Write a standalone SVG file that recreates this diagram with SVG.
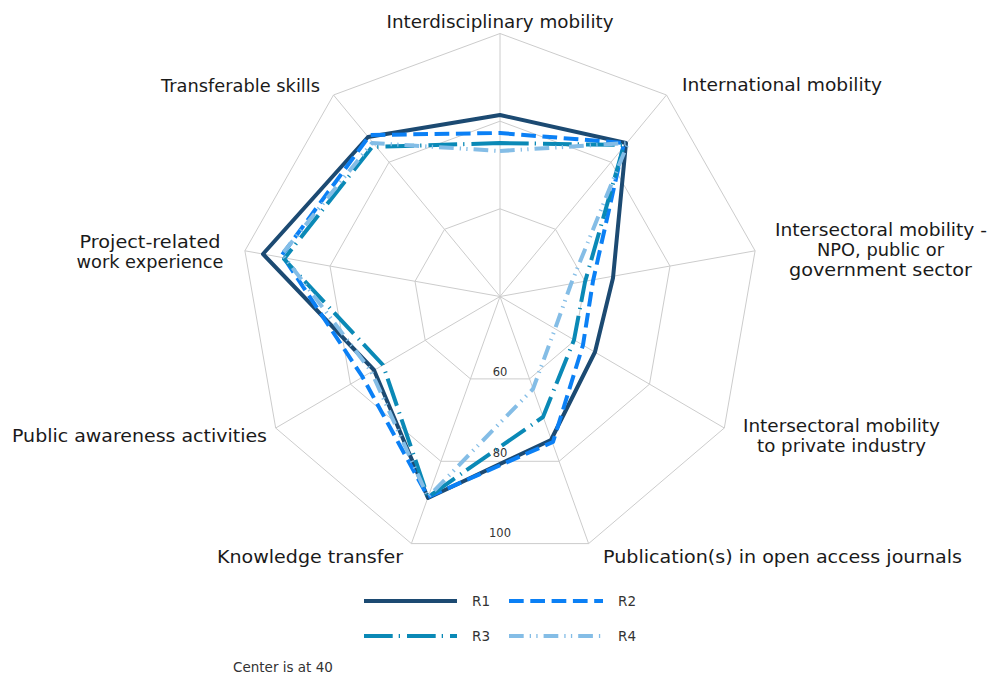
<svg xmlns="http://www.w3.org/2000/svg" width="989" height="677" viewBox="0 0 989 677">
<style>
  .grid { fill: none; stroke: #cccccc; stroke-width: 1; }
  .lbl { font-family: "DejaVu Sans", "Liberation Sans", sans-serif; font-size: 18.5px; fill: #1a1a1a; }
  .tick { font-family: "DejaVu Sans", "Liberation Sans", sans-serif; font-size: 11.5px; fill: #333333; text-anchor: middle; }
  .leg { font-family: "DejaVu Sans", "Liberation Sans", sans-serif; font-size: 13.5px; fill: #333333; }
  .s { fill: none; stroke-width: 4; stroke-linejoin: round; }
  .r1 { stroke: #1c4a72; }
  .r2 { stroke: #0b80f5; stroke-dasharray: 14.7 6.6; }
  .r3 { stroke: #0a89b6; stroke-dasharray: 28.7 6 1.3 7; }
  .r4 { stroke: #84bde6; stroke-dasharray: 14.7 6 1.3 5.3 1.3 6; }
</style>
<rect width="989" height="677" fill="#ffffff"/>
<g id="grid">
  <polygon class="grid" points="500,208.8 555.5,229.3 585,281.3 574.8,340.3 529.5,378.9 470.5,378.9 425.2,340.3 415,281.3 444.5,229.3"/>
  <polygon class="grid" points="500,121.2 611,162.2 670,266.1 649.5,384.2 559.1,461.3 440.9,461.3 350.5,384.2 330,266.1 389,162.2"/>
  <polygon class="grid" points="500,33.5 666.5,95 755.1,250.8 724.3,428 588.6,543.6 411.4,543.6 275.7,428 244.9,250.8 333.5,95"/>
  <path class="grid" d="M500,296.5L500,33.5M500,296.5L666.5,95M500,296.5L755.1,250.8M500,296.5L724.3,428M500,296.5L588.6,543.6M500,296.5L411.4,543.6M500,296.5L275.7,428M500,296.5L244.9,250.8M500,296.5L333.5,95"/>
  <text class="tick" x="500" y="376">60</text>
  <text class="tick" x="500" y="457">80</text>
  <text class="tick" x="500" y="537">100</text>
</g>
<g id="axis-labels">
  <text class="lbl" x="500" y="28" text-anchor="middle" textLength="227" lengthAdjust="spacingAndGlyphs">Interdisciplinary mobility</text>
  <text class="lbl" x="682" y="91" textLength="200" lengthAdjust="spacingAndGlyphs">International mobility</text>
  <text class="lbl" x="881" y="236" text-anchor="middle" textLength="212" lengthAdjust="spacingAndGlyphs">Intersectoral mobility -</text>
  <text class="lbl" x="880.5" y="256" text-anchor="middle" textLength="127" lengthAdjust="spacingAndGlyphs">NPO, public or</text>
  <text class="lbl" x="880.5" y="276" text-anchor="middle" textLength="183" lengthAdjust="spacingAndGlyphs">government sector</text>
  <text class="lbl" x="841.5" y="432" text-anchor="middle" textLength="197" lengthAdjust="spacingAndGlyphs">Intersectoral mobility</text>
  <text class="lbl" x="841.5" y="452" text-anchor="middle" textLength="169" lengthAdjust="spacingAndGlyphs">to private industry</text>
  <text class="lbl" x="603" y="563" textLength="359" lengthAdjust="spacingAndGlyphs">Publication(s) in open access journals</text>
  <text class="lbl" x="403" y="563" text-anchor="end" textLength="186" lengthAdjust="spacingAndGlyphs">Knowledge transfer</text>
  <text class="lbl" x="267" y="442" text-anchor="end" textLength="255" lengthAdjust="spacingAndGlyphs">Public awareness activities</text>
  <text class="lbl" x="150" y="248" text-anchor="middle" textLength="141" lengthAdjust="spacingAndGlyphs">Project-related</text>
  <text class="lbl" x="150" y="268" text-anchor="middle" textLength="147" lengthAdjust="spacingAndGlyphs">work experience</text>
  <text class="lbl" x="320" y="92" text-anchor="end" textLength="159" lengthAdjust="spacingAndGlyphs">Transferable skills</text>
</g>
<g id="series">
  <polygon id="R1" class="s r1" points="500,115 626,143 613,278 595,352 551,440 428,498 374,370 263,254 368,137"/>
  <polygon id="R2" class="s r2" points="500,133 624,143 593,281 583,345 553,442 428,497 362,376 282,255 370,135"/>
  <polygon id="R3" class="s r3" points="500,143 624,145 585,282 574,340 543,417 428,497 383,365 284,259 372,147"/>
  <polygon id="R4" class="s r4" points="500,151 628,143 571,284 555,329 533,389 428,497 371,371 282,254 372,143"/>
</g>
<g id="legend">
  <line class="s r1" x1="364" y1="601" x2="457" y2="601"/>
  <text class="leg" x="472" y="606">R1</text>
  <line class="s r2" x1="509" y1="601" x2="603" y2="601"/>
  <text class="leg" x="618" y="606">R2</text>
  <line class="s r3" x1="364" y1="636" x2="457" y2="636"/>
  <text class="leg" x="472" y="641">R3</text>
  <line class="s r4" x1="509" y1="636" x2="601" y2="636"/>
  <text class="leg" x="618" y="641">R4</text>
</g>
<text class="leg" x="233" y="672">Center is at 40</text>
</svg>
